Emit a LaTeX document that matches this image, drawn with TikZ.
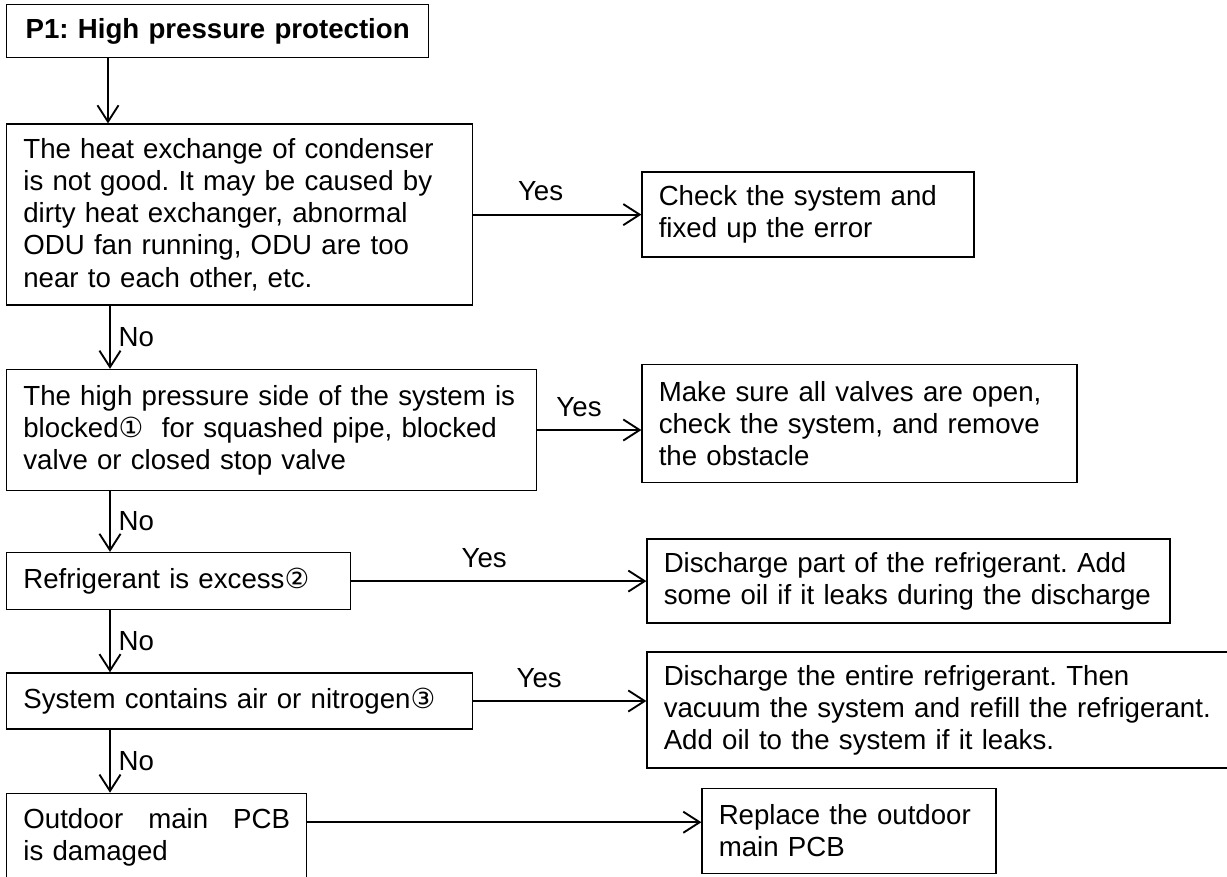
\documentclass[tikz,border=0pt]{standalone}
\usepackage{fontspec}
\setmainfont{Liberation Sans}
\newfontfamily\circfont{DejaVu Sans}
\usetikzlibrary{positioning, arrows.meta}
\frenchspacing
\hyphenpenalty=10000

\begin{document}
\begin{tikzpicture}[
    box/.style={draw, line width=0.6pt, align=left, inner xsep=0.25cm, inner ysep=0pt},
    arr/.style={-{Straight Barb[length=7pt, width=9pt]}, line width=0.8pt},
    font=\fontsize{11.8}{13.7}\selectfont
  ]
    \useasboundingbox (0,0) rectangle (18.405,-13.155);
    % left column
    \node[box, align=center, text width=5.83cm, minimum height=0.795cm, anchor=north west] (title) at (0.09,-0.06) {\textbf{P1: High pressure protection}};
    \node[box, text width=6.49cm, minimum height=2.715cm, below=0.975cm of title.south west, anchor=north west] (cond) {The heat exchange of condenser\\is not good. It may be caused by\\dirty heat exchanger, abnormal\\ODU fan running, ODU are too\\near to each other, etc.};
    \node[box, text width=7.45cm, minimum height=1.815cm, below=0.945cm of cond.south west, anchor=north west] (block) {The high pressure side of the system is\\blocked{\circfont ①}\ \ for squashed pipe, blocked\\valve or closed stop valve};
    \node[box, text width=4.66cm, minimum height=0.855cm, below=0.91cm of block.south west, anchor=north west] (excess) {Refrigerant is excess{\circfont ②}};
    \node[box, text width=6.49cm, minimum height=0.84cm, below=0.93cm of excess.south west, anchor=north west] (air) {System contains air or nitrogen{\circfont ③}};
    \node[box, text width=4.0cm, minimum height=1.305cm, below=0.945cm of air.south west, anchor=north west] (pcb) {Outdoor\hfill main\hfill PCB\\is damaged};
    % right column
    \node[box, text width=4.48cm, minimum height=1.275cm, right=2.52cm of cond] (check) {Check the system and\\fixed up the error};
    \node[box, text width=6.025cm, minimum height=1.77cm, right=1.56cm of block, yshift=0.1cm] (valves) {Make sure all valves are open,\\check the system, and remove\\the obstacle};
    \node[box, text width=7.345cm, minimum height=1.26cm, right=4.425cm of excess] (partdis) {Discharge part of the refrigerant. Add\\some oil if it leaks during the discharge};
    \node[box, text width=8.5cm, minimum height=1.74cm, right=2.595cm of air, yshift=-0.135cm] (entire) {Discharge the entire refrigerant. Then\\vacuum the system and refill the refrigerant.\\Add oil to the system if it leaks.};
    \node[box, text width=3.91cm, minimum height=1.27cm, right=5.91cm of pcb, yshift=0.09cm] (replace) {Replace the outdoor\\main PCB};
    % no branches
    \draw[arr] ([xshift=1.53cm]title.south west) -- ([xshift=1.53cm]cond.north west);
    \draw[arr] ([xshift=1.56cm]cond.south west) -- node[right] {No} ([xshift=1.56cm]block.north west);
    \draw[arr] ([xshift=1.56cm]block.south west) -- node[right] {No} ([xshift=1.56cm]excess.north west);
    \draw[arr] ([xshift=1.56cm]excess.south west) -- node[right] {No} ([xshift=1.56cm]air.north west);
    \draw[arr] ([xshift=1.56cm]air.south west) -- node[right] {No} ([xshift=1.56cm]pcb.north west);
    % yes branches
    \draw[arr] (cond.east) -- node[above=2pt, pos=.4] {Yes} (cond.east -| check.west);
    \draw[arr] (block.east) -- node[above=2pt, pos=.4] {Yes} (block.east -| valves.west);
    \draw[arr] (excess.east) -- node[above=2pt, pos=.45] {Yes} (excess.east -| partdis.west);
    \draw[arr] (air.east) -- node[above=2pt, pos=.38] {Yes} (air.east -| entire.west);
    \draw[arr] ([yshift=0.22cm]pcb.east) -- ([yshift=0.22cm]pcb.east -| replace.west);
\end{tikzpicture}
\end{document}
